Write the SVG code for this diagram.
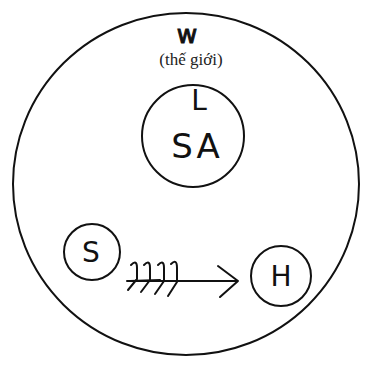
<svg xmlns="http://www.w3.org/2000/svg" width="367" height="367" viewBox="0 0 367 367">
<style>
.c{fill:none;stroke:#111;stroke-width:2}
.h{font-family:"DejaVu Sans","Liberation Sans",sans-serif;fill:#111;text-anchor:middle}
.s{fill:none;stroke:#111;stroke-width:2;stroke-linecap:round;stroke-linejoin:round}
</style>
<rect width="367" height="367" fill="#fff"/>
<g id="W">
<ellipse class="c" cx="186" cy="184" rx="173" ry="171"/>
<text class="h" x="187" y="43" font-size="25" stroke="#111" stroke-width="1">w</text>
<text x="191" y="65" font-family="Liberation Serif, serif" font-size="17" fill="#222" text-anchor="middle">(thế giới)</text>
</g>
<g id="SA">
<circle class="c" cx="193" cy="136" r="51"/>
<text class="h" x="199" y="110" font-size="28">L</text>
<text class="h" x="197" y="158" font-size="34" letter-spacing="3">SA</text>
</g>
<g id="S">
<circle class="c" cx="92" cy="252" r="28"/>
<text class="h" x="91" y="262" font-size="28">S</text>
</g>
<g id="H">
<circle class="c" cx="281" cy="276" r="30"/>
<text class="h" x="281" y="286" font-size="28">H</text>
</g>
<g id="connectors">
<path class="s" d="M127 281 L238 281 M218 266 L238 281 L220 297"/>
<path class="s" d="M130 281 L160 280" stroke-width="3"/>
<path class="s" d="M131 265 Q137 259 137 268 L137 279 L128 290 M144 265 Q150 259 150 268 L150 280 L141 292 M158 265 Q164 259 164 268 L164 281 L155 294 M171 264 Q177 258 177 268 L177 282 L168 296"/>
</g>
</svg>
